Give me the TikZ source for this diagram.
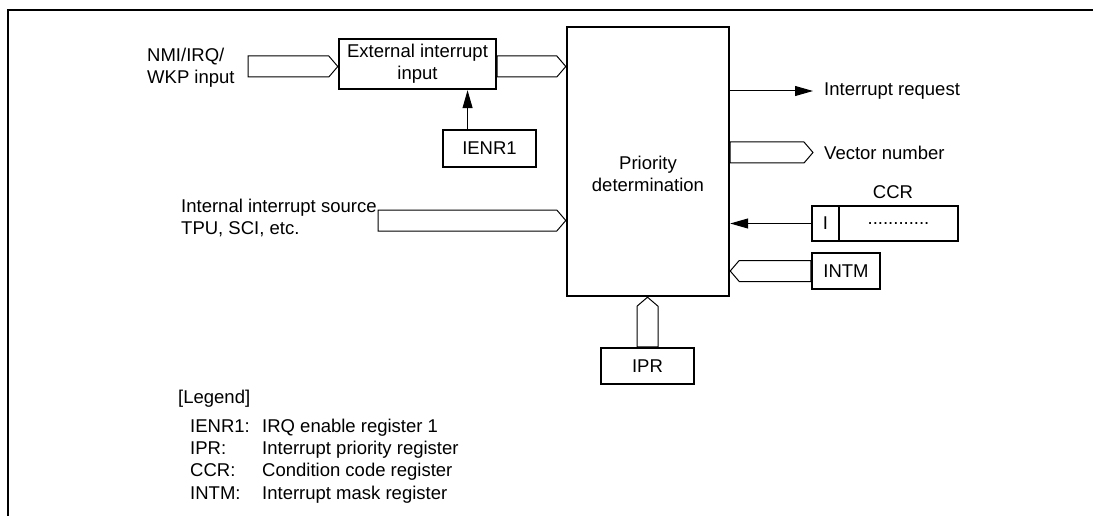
\documentclass[tikz,border=0pt]{standalone}
\usepackage{fontspec}
\setmainfont{Liberation Sans}
\usetikzlibrary{arrows.meta,calc}

% hollow bus arrow from #1 to the tip #2
\newcommand\busarrow[2]{%
  \coordinate (busbase) at ($(#2)!9pt!(#1)$);
  \draw[bus] ($(#1)!10.5pt!90:(#2)$) -- ($(busbase)!10.5pt!90:(#2)$) -- (#2)
    -- ($(busbase)!10.5pt!-90:(#2)$) -- ($(#1)!10.5pt!-90:(#2)$) -- cycle;}

\begin{document}
\begin{tikzpicture}[x=1pt,y=-1pt,font=\fontsize{18.5}{22}\selectfont,
    reg/.style={draw,line width=2.4pt,inner sep=0pt,align=center},
    txt/.style={inner sep=0pt,align=left},
    bus/.style={line width=1pt,line join=miter},
    sig/.style={line width=1pt,-{Triangle[length=18pt,width=10pt]}}]
      \useasboundingbox (0,0) rectangle (1093,516);
      \draw[line width=2.5pt] (1093,10) -- (8,10) -- (8,516);
      % blocks
      \node[reg,minimum width=157,minimum height=50] (ext) at (417.5,64) {External interrupt\\input};
      \node[reg,minimum width=93,minimum height=37] (ienr) at (489.5,148.5) {IENR1};
      \node[reg,minimum width=162,minimum height=269] (prio) at (648,161.5) {};
      \node[txt,align=center] (priotxt) at ($(prio.center)+(0,12)$) {Priority\\determination};
      \node[reg,minimum width=93,minimum height=36] (ipr) at (647.5,366) {IPR};
      \node[reg,minimum width=27,minimum height=35] (ccrbit) at (825.5,223.5) {I};
      \node[reg,minimum width=119,minimum height=35] (ccrrest) at (898.5,223.5) {............};
      \node[txt] (ccrtxt) at (893,192) {CCR};
      \node[reg,minimum width=68,minimum height=36] (intm) at (846,271) {INTM};
      % inputs
      \node[txt,anchor=west] (nmitxt) at (147,67.5) {NMI/IRQ/\\WKP input};
      \coordinate (nmiin) at (248,66.5);
      \coordinate (extin) at (ext.west |- nmiin);
      \coordinate (extout) at (ext.east |- nmiin);
      \coordinate (prioin) at (prio.west |- nmiin);
      \busarrow{nmiin}{extin}
      \busarrow{extout}{prioin}
      \coordinate (ienrtap) at ($(ienr.north west)!0.27!(ienr.north east)$);
      \draw[sig] (ienrtap) -- (ienrtap |- ext.south);
      \node[txt,anchor=west] (inttxt) at (181,218) {Internal interrupt source\\TPU, SCI, etc.};
      \coordinate (intin) at (378,220.5);
      \coordinate (prioint) at (prio.west |- intin);
      \busarrow{intin}{prioint}
      % outputs
      \coordinate (reqend) at (813,91);
      \draw[sig] (prio.east |- reqend) -- (reqend);
      \node[txt,anchor=west] (reqtxt) at (824,91) {Interrupt request};
      \coordinate (vecend) at (813,152.5);
      \coordinate (vecout) at (prio.east |- vecend);
      \busarrow{vecout}{vecend}
      \node[txt,anchor=west] (vectxt) at (824,153) {Vector number};
      % registers into priority
      \draw[sig] (ccrbit.west) -- (ccrbit.west -| prio.east);
      \coordinate (intmtip) at (intm.west -| prio.east);
      \busarrow{intm.west}{intmtip}
      \coordinate (iprtip) at (ipr.north |- prio.south);
      \busarrow{ipr.north}{iprtip}
      % legend
      \node[txt,anchor=base west] (lgd) at (178,403) {[Legend]};
      \node[txt,anchor=base west] (lgienr) at (190,432) {IENR1:};
      \node[txt,anchor=base west] (lgienrtxt) at (262,432) {IRQ enable register 1};
      \node[txt,anchor=base west] (lgipr) at (190,454.5) {IPR:};
      \node[txt,anchor=base west] (lgiprtxt) at (262,454.5) {Interrupt priority register};
      \node[txt,anchor=base west] (lgccr) at (190,476.5) {CCR:};
      \node[txt,anchor=base west] (lgccrtxt) at (262,476.5) {Condition code register};
      \node[txt,anchor=base west] (lgintm) at (190,499) {INTM:};
      \node[txt,anchor=base west] (lgintmtxt) at (262,499) {Interrupt mask register};
    \end{tikzpicture}
\end{document}
